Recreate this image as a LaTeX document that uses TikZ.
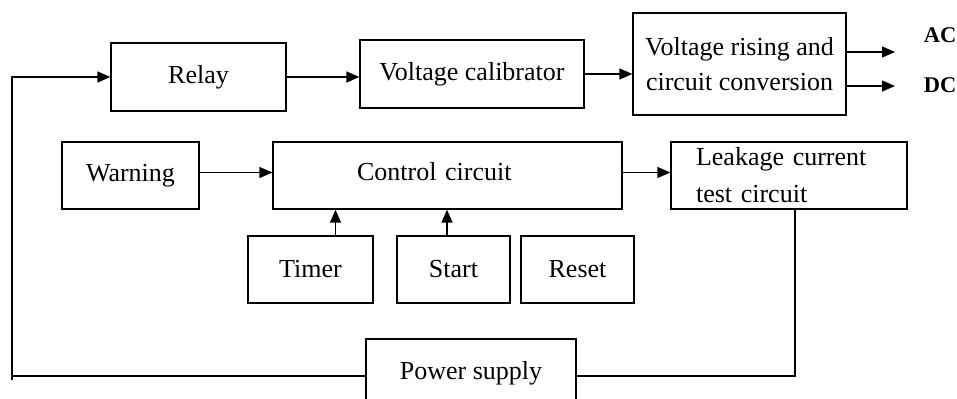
\documentclass[tikz,border=0pt]{standalone}
\usepackage{fontspec}
\setmainfont{Liberation Serif}
\usetikzlibrary{arrows.meta}
\tikzset{
    block/.style={draw, line width=0.75pt, inner sep=0pt, minimum height=1.36cm,
        font=\fontsize{14.8}{18}\selectfont},
    arr/.style={-{Triangle[length=0.26cm,width=0.22cm]}, line width=0.75pt},
    wire/.style={line width=0.75pt},
    outlabel/.style={font=\fontsize{12.8}{15}\selectfont\bfseries, inner sep=0pt}
}
\begin{document}
\begin{tikzpicture}[x=0.02cm,y=-0.02cm]
        \clip (0,0) rectangle (957,399);
        % top row
        \node [block, minimum width=3.5cm] (relay) at (198.5,77) {Relay};
        \node [block, minimum width=4.48cm] (calib) at (472,74) {Voltage calibrator};
        \node [block, minimum width=4.26cm, minimum height=2.04cm, align=center,
            font=\fontsize{14.8}{19.9}\selectfont] (rising) at (739.5,64)
            {Voltage rising and\\circuit conversion};
        \node [outlabel] (ac) at (940,35) {AC};
        \node [outlabel] (dc) at (940,85) {DC};
        \coordinate (acend) at (895,52);
        \coordinate (dcend) at (895,86);
        % middle row
        \node [block, minimum width=2.74cm, minimum height=1.34cm] (warning) at (130.5,175.5) {Warning};
        \node [block, minimum height=1.34cm, inner xsep=1.68cm, text width=3.62cm, align=left,
            text depth=0.16cm] (control) at (447.5,175.5) {Control circuit};
        \node [block, minimum height=1.34cm, inner xsep=0.5cm, text width=3.72cm, align=left,
            font=\fontsize{14.8}{21}\selectfont] (leakage) at (789,175.5)
            {Leakage current\\test circuit};
        % inputs
        \node [block, minimum width=2.5cm, minimum height=1.34cm] (timer) at (310.5,269.5) {Timer};
        \node [block, minimum width=2.26cm, minimum height=1.34cm] (start) at (453.5,269.5) {Start};
        \node [block, minimum width=2.26cm, minimum height=1.34cm] (reset) at (577.5,269.5) {Reset};
        % supply
        \node [block, minimum width=4.2cm] (power) at (471,373) {Power supply};
        \coordinate (lcorner) at (12,376);
        \coordinate (rcorner) at (795,376);

        \draw[arr] (relay.east) -- (relay.east -| calib.west);
        \draw[arr] (calib.east) -- (calib.east -| rising.west);
        \draw[arr] (rising.east |- acend) -- (acend);
        \draw[arr] (rising.east |- dcend) -- (dcend);
        \draw[arr] ([yshift=0.06cm]warning.east) coordinate (wout) -- (wout -| control.west);
        \draw[arr] ([yshift=0.06cm]control.east) coordinate (cout) -- (cout -| leakage.west);
        \draw[arr] ([xshift=0.5cm]timer.north) coordinate (tup) -- (tup |- control.south);
        \draw[arr] ([xshift=-0.13cm]start.north) coordinate (sup) -- (sup |- control.south);
        \draw[wire] (leakage.south -| rcorner) -- (rcorner) -- (power.east |- rcorner);
        \draw[wire] (power.west |- lcorner) -- (lcorner) -- ([yshift=-0.08cm]lcorner);
        \draw[arr] (lcorner) |- (relay.west);
    \end{tikzpicture}
\end{document}
